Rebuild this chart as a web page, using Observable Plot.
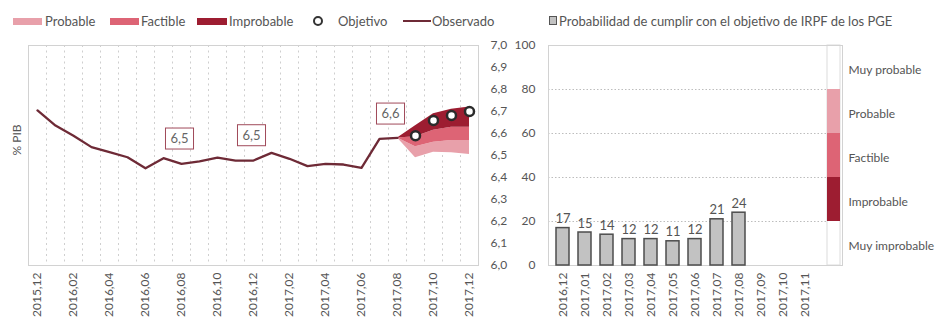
<!DOCTYPE html>
<html><head><meta charset="utf-8">
<script src="https://cdn.jsdelivr.net/npm/d3@7"></script>
<script src="https://cdn.jsdelivr.net/npm/@observablehq/plot@0.6"></script>
<style>
body{margin:0;background:#fff;font-family:Lato,sans-serif;color:#555;}
#wrap{position:relative;width:941px;height:318px;overflow:hidden;background:#fff}
.legend{position:absolute;top:0;left:0;width:941px;height:36px;font-size:13px}
.legend span{position:absolute;display:block}
.legend .lbl{top:13px;line-height:16px;white-space:nowrap}
#left{position:absolute;left:0;top:36px}
#right{position:absolute;left:515px;top:36px}
</style></head><body>
<div id="wrap">
  <div class="legend">
    <span style="left:13px;top:18px;width:29px;height:7px;background:#e8a0aa"></span>
    <span class="lbl" style="left:45px">Probable</span>
    <span style="left:110px;top:18px;width:29px;height:7px;background:#dd6475"></span>
    <span class="lbl" style="left:141px">Factible</span>
    <span style="left:197px;top:18px;width:30px;height:7px;background:#9d1d31"></span>
    <span class="lbl" style="left:229px">Improbable</span>
    <span style="left:313px;top:16px;width:6px;height:6px;border:2px solid #333;border-radius:50%;background:#fff"></span>
    <span class="lbl" style="left:338px">Objetivo</span>
    <span style="left:403px;top:20px;width:28px;height:2px;background:#6e2a36"></span>
    <span class="lbl" style="left:432px">Observado</span>
    <span style="left:549px;top:16px;width:6px;height:7px;background:#c2c2c2;border:1.5px solid #555"></span>
    <span class="lbl" style="left:559px">Probabilidad de cumplir con el objetivo de IRPF de los PGE</span>
  </div>
  <div id="left"></div>
  <div id="right"></div>
</div>
<script>
// ---------- data: left chart ----------
const months = ["2015,12","2016,01","2016,02","2016,03","2016,04","2016,05","2016,06","2016,07","2016,08","2016,09","2016,10","2016,11","2016,12","2017,01","2017,02","2017,03","2017,04","2017,05","2017,06","2017,07","2017,08","2017,09","2017,10","2017,11","2017,12"];
const observed = [6.705, 6.636, 6.59, 6.538, 6.515, 6.492, 6.442, 6.488, 6.462, 6.473, 6.49, 6.477, 6.477, 6.512, 6.485, 6.452, 6.462, 6.459, 6.444, 6.576, 6.58];
const objectiveMonths = ["2017,09","2017,10","2017,11","2017,12"];
const objective = [6.59, 6.659, 6.682, 6.70];
const fanMonths = ["2017,08","2017,09","2017,10","2017,11","2017,12"];
const improbableTop = [6.58, 6.635, 6.69, 6.71, 6.72];
const factibleTop = [6.58, 6.585, 6.615, 6.628, 6.628];
const probableTop = [6.58, 6.54, 6.56, 6.568, 6.568];
const probableBottom = [6.58, 6.49, 6.515, 6.512, 6.505];
const annotMonthsA = ["2016,08","2016,12"];
const annotLabelsA = ["6,5","6,5"];
const annotMonthsB = ["2017,08"];
const annotLabelsB = ["6,6"];
const leftTicks = [6.0, 6.1, 6.2, 6.3, 6.4, 6.5, 6.6, 6.7, 6.8, 6.9, 7.0];

// ---------- data: right chart ----------
const barMonths = ["2016,12","2017,01","2017,02","2017,03","2017,04","2017,05","2017,06","2017,07","2017,08","2017,09","2017,10","2017,11"];
const barValues = [17, 15, 14, 12, 12, 11, 12, 21, 24];
const rightTicks = [0, 20, 40, 60, 80, 100];
const gridValues = [20, 40, 60, 80];
const zoneNames = ["Muy improbable","Improbable","Factible","Probable","Muy probable"];
const zoneBounds = [0, 20, 40, 60, 80, 100];

// ---------- styles ----------
const C = {probable:"#e8a0aa", factible:"#dd6475", improbable:"#9d1d31", line:"#6e2a36", frame:"#d2d2d2", text:"#555"};
const zoneFill = {"Improbable": C.improbable, "Factible": C.factible, "Probable": C.probable};
const ANN = {A: {dx: -2, dy: -25, fill: "#666666"}, B: {dx: -7, dy: -24, fill: "#656565"}};

const idx = m => months.indexOf(m);
const obsData = observed.map((v, i) => ({i, v}));
const objData = objectiveMonths.map((m, k) => ({i: idx(m), v: objective[k]}));
const fan = fanMonths.map((m, k) => ({i: idx(m), a: improbableTop[k], b: factibleTop[k], c: probableTop[k], d: probableBottom[k]}));
const gridX = months.slice(1).map((m, k) => k + 0.5);
const evenIdx = months.map((m, i) => i).filter(i => i % 2 === 0);
const annA = annotMonthsA.map((m, k) => ({i: idx(m), v: observed[idx(m)], t: annotLabelsA[k]}));
const annB = annotMonthsB.map((m, k) => ({i: idx(m), v: observed[idx(m)], t: annotLabelsB[k]}));

const left = Plot.plot({
  width: 515, height: 282,
  marginTop: 9, marginBottom: 53, marginLeft: 28, marginRight: 37,
  style: {fontFamily: "Lato, sans-serif", fontSize: "12px", color: C.text, background: "transparent"},
  x: {type: "linear", domain: [-0.5, 24.5], ticks: evenIdx, tickFormat: i => months[i], tickRotate: -90, tickSize: 0, tickPadding: 7, label: null},
  y: {domain: [6, 7], axis: "right", ticks: leftTicks, tickFormat: d => d.toFixed(1).replace(".", ","), tickSize: 0, tickPadding: 12, label: null},
  marks: [
    Plot.ruleX(gridX, {stroke: "#cfcfcf", strokeDasharray: "2,3.5", strokeWidth: 1}),
    Plot.frame({stroke: C.frame}),
    Plot.areaY(fan, {x: "i", y1: "c", y2: "d", fill: C.probable}),
    Plot.areaY(fan, {x: "i", y1: "b", y2: "c", fill: C.factible}),
    Plot.areaY(fan, {x: "i", y1: "a", y2: "b", fill: C.improbable}),
    Plot.line(obsData, {x: "i", y: "v", stroke: C.line, strokeWidth: 2.3}),
    Plot.text(annA, {x: "i", y: "v", text: "t", dx: ANN.A.dx, dy: ANN.A.dy, lineAnchor: "middle", fontSize: 13, fill: ANN.A.fill}),
    Plot.text(annB, {x: "i", y: "v", text: "t", dx: ANN.B.dx, dy: ANN.B.dy, lineAnchor: "middle", fontSize: 13, fill: ANN.B.fill}),
    Plot.dot(objData, {x: "i", y: "v", r: 4.5, fill: "white", stroke: "#2b2b2b", strokeWidth: 2.5}),
    Plot.text(["% PIB"], {frameAnchor: "left", rotate: -90, dx: -11, fontSize: 12, fill: C.text})
  ]
});
document.getElementById("left").appendChild(left);

// boxes + leader lines around annotation labels
function boxify(off) {
  const NS = "http://www.w3.org/2000/svg";
  const texts = Array.from(left.querySelectorAll("text")).filter(t => {
    let el = t;
    while (el && el !== left) {
      const f = el.getAttribute && el.getAttribute("fill");
      if (f) return f.toLowerCase() === off.fill;
      el = el.parentNode;
    }
    return false;
  });
  texts.forEach(t => {
    const bb = t.getBBox();
    const tr = t.getAttribute("transform");
    const tx = +(t.getAttribute("x") || 0), ty = +(t.getAttribute("y") || 0);
    const ln = document.createElementNS(NS, "line");
    ln.setAttribute("x1", bb.x + bb.width / 2);
    ln.setAttribute("y1", bb.y + bb.height + 3);
    ln.setAttribute("x2", tx - off.dx);
    ln.setAttribute("y2", ty - off.dy);
    ln.setAttribute("stroke", "#c9a4ac");
    ln.setAttribute("stroke-width", "0.8");
    const r = document.createElementNS(NS, "rect");
    r.setAttribute("x", bb.x - 5);
    r.setAttribute("y", bb.y - 2);
    r.setAttribute("width", bb.width + 10);
    r.setAttribute("height", bb.height + 5);
    r.setAttribute("fill", "white");
    r.setAttribute("stroke", "#a04a5a");
    r.setAttribute("stroke-width", "1");
    if (tr) { ln.setAttribute("transform", tr); r.setAttribute("transform", tr); }
    t.parentNode.insertBefore(ln, t);
    t.parentNode.insertBefore(r, t);
  });
}
boxify(ANN.A);
boxify(ANN.B);

// ---------- right chart ----------
const STRIP = "·";
const barData = barValues.map((v, k) => ({m: barMonths[k], v}));
const zones = zoneNames.map((n, k) => ({n, lo: zoneBounds[k], hi: zoneBounds[k + 1], mid: (zoneBounds[k] + zoneBounds[k + 1]) / 2}));
const coloredZones = zones.filter(z => zoneFill[z.n]);

const right = Plot.plot({
  width: 426, height: 282,
  marginTop: 9, marginBottom: 53, marginLeft: 33, marginRight: 99,
  style: {fontFamily: "Lato, sans-serif", fontSize: "12px", color: C.text, background: "transparent", overflow: "visible"},
  x: {domain: [...barMonths, STRIP], paddingInner: 0.4, paddingOuter: 0.2, tickFormat: d => d === STRIP ? "" : d, tickRotate: -90, tickSize: 0, tickPadding: 7, label: null},
  y: {domain: [0, 100], ticks: rightTicks, tickSize: 0, tickPadding: 13, label: null},
  marks: [
    Plot.ruleY(gridValues, {stroke: "#bdbdbd", strokeDasharray: "1.5,2"}),
    Plot.barY([STRIP], {x: d => d, y1: 0, y2: 100, fill: "white", stroke: "#dcdcdc", dx: 7}),
    Plot.frame({stroke: C.frame}),
    Plot.barY(coloredZones, {x: () => STRIP, y1: "lo", y2: "hi", fill: d => zoneFill[d.n], dx: 7}),
    Plot.barY(barData, {x: "m", y: "v", fill: "#c2c2c2", stroke: "#4d4d4d", strokeWidth: 1.5}),
    Plot.text(barData, {x: "m", y: "v", text: "v", lineAnchor: "bottom", dy: -5, fontSize: 13, fill: C.text}),
    Plot.text(zones, {frameAnchor: "right", y: "mid", text: "n", textAnchor: "start", dx: 6, dy: 3, fontSize: 12, fill: C.text})
  ]
});
document.getElementById("right").appendChild(right);
</script>
</body></html>
